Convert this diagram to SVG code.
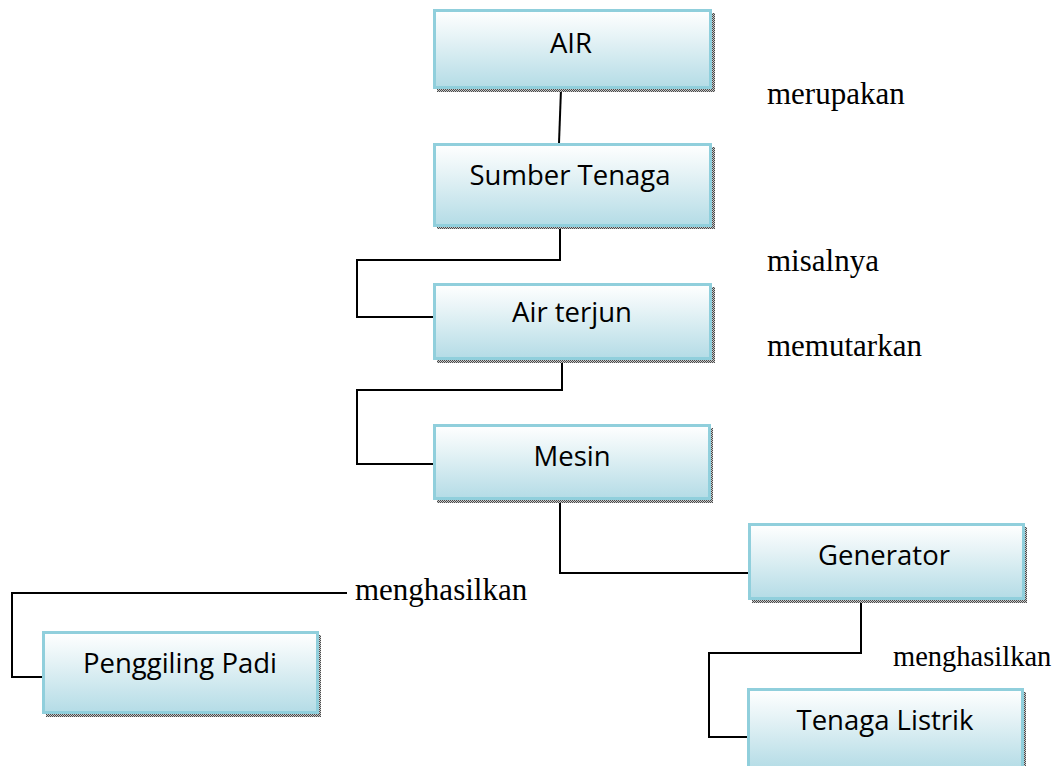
<svg xmlns="http://www.w3.org/2000/svg" width="1062" height="766" viewBox="0 0 1062 766">
  <defs>
    <linearGradient id="boxFill" x1="0" y1="0" x2="0" y2="1">
      <stop offset="0" stop-color="#ffffff"/>
      <stop offset="0.35" stop-color="#e6f3f6"/>
      <stop offset="1" stop-color="#b4dce6"/>
    </linearGradient>
    <pattern id="dots" width="2" height="2" patternUnits="userSpaceOnUse">
      <rect width="2" height="2" fill="#c8c8c8"/>
      <rect width="1" height="1" fill="#4a4a4a"/>
      <rect x="1" y="1" width="1" height="1" fill="#4a4a4a"/>
    </pattern>
  </defs>
  <style>
    .shadow { fill: url(#dots); }
    .box { fill: url(#boxFill); stroke: #90cfdc; stroke-width: 3; }
    .name { font-family: "Open Sans", "DejaVu Sans", sans-serif; font-size: 27.5px; fill: #000; text-anchor: middle; }
    .verb { font-family: "Liberation Serif", "Times New Roman", serif; font-size: 31px; fill: #000; }
    .wire { fill: none; stroke: #000; stroke-width: 2; }
  </style>
  <rect width="1062" height="766" fill="#ffffff"/>

  <!-- connectors -->
  <g id="connectors">
    <path class="wire" d="M561 89 L559 143"/>
    <path class="wire" d="M560 227 V260 H357 V317 H433"/>
    <path class="wire" d="M562 360 V390 H357 V464 H433"/>
    <path class="wire" d="M560 500 V573 H748"/>
    <path class="wire" d="M347 593 H12 V677 H42"/>
    <path class="wire" d="M861 602 V653 H709 V737 H747"/>
  </g>

  <!-- link labels -->
  <g id="labels">
    <text class="verb" x="767" y="104">merupakan</text>
    <text class="verb" x="767" y="271">misalnya</text>
    <text class="verb" x="767" y="356">memutarkan</text>
    <text class="verb" x="355" y="600">menghasilkan</text>
    <text class="verb" x="893" y="666" style="font-size:28.5px">menghasilkan</text>
  </g>

  <g id="node-air">
    <rect class="shadow" x="437" y="13" width="278" height="79"/>
    <rect class="box" x="434.5" y="10.5" width="276" height="77"/>
    <text class="name" x="571" y="53">AIR</text>
  </g>

  <g id="node-sumber-tenaga">
    <rect class="shadow" x="437" y="147" width="278" height="82"/>
    <rect class="box" x="434.5" y="144.5" width="276" height="81"/>
    <text class="name" x="570" y="185">Sumber Tenaga</text>
  </g>

  <g id="node-air-terjun">
    <rect class="shadow" x="437" y="287" width="278" height="76"/>
    <rect class="box" x="434.5" y="284.5" width="276" height="74"/>
    <text class="name" x="572" y="322">Air terjun</text>
  </g>

  <g id="node-mesin">
    <rect class="shadow" x="437" y="428" width="276" height="75"/>
    <rect class="box" x="434.5" y="425.5" width="275" height="73"/>
    <text class="name" x="572" y="466">Mesin</text>
  </g>

  <g id="node-generator">
    <rect class="shadow" x="752" y="527" width="275" height="76"/>
    <rect class="box" x="749.5" y="524.5" width="274" height="74"/>
    <text class="name" x="884" y="565">Generator</text>
  </g>

  <g id="node-penggiling-padi">
    <rect class="shadow" x="46" y="635" width="275" height="82"/>
    <rect class="box" x="43.5" y="632.5" width="274" height="80"/>
    <text class="name" x="180" y="673">Penggiling Padi</text>
  </g>

  <g id="node-tenaga-listrik">
    <rect class="shadow" x="751" y="692" width="275" height="80"/>
    <rect class="box" x="748.5" y="689.5" width="274" height="80"/>
    <text class="name" x="885" y="730">Tenaga Listrik</text>
  </g>
</svg>
